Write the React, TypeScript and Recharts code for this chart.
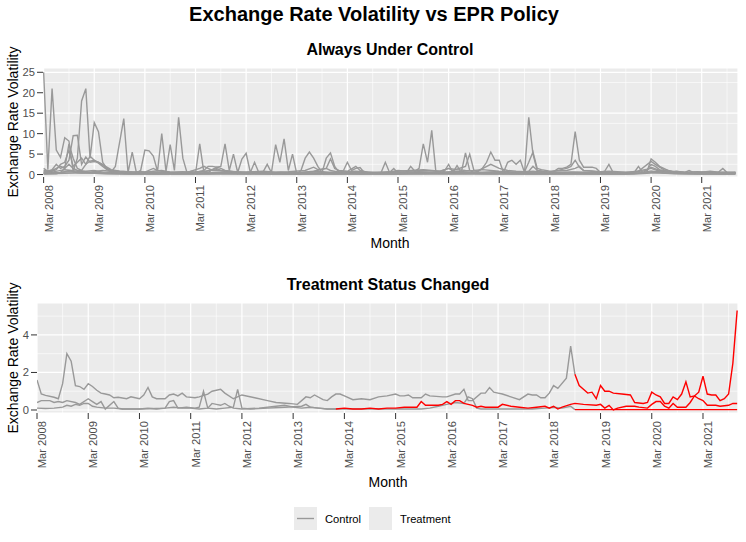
import React from "react";
import { CartesianGrid, Line, LineChart, XAxis, YAxis } from "recharts";

type Pt = [number, number];

// month index 0 = Mar 2008, 164 = Nov 2021
const MONTH_TICKS = [0, 12, 24, 36, 48, 60, 72, 84, 96, 108, 120, 132, 144, 156];
const MONTH_LABELS = [
  "Mar 2008", "Mar 2009", "Mar 2010", "Mar 2011", "Mar 2012", "Mar 2013", "Mar 2014",
  "Mar 2015", "Mar 2016", "Mar 2017", "Mar 2018", "Mar 2019", "Mar 2020", "Mar 2021",
];
const MONTH_MINOR = [6, 18, 30, 42, 54, 66, 78, 90, 102, 114, 126, 138, 150, 162];

const TOP_TICKS = [0, 5, 10, 15, 20, 25];
const TOP_MINOR = [2.5, 7.5, 12.5, 17.5, 22.5];
const BOTTOM_TICKS = [0, 2, 4];
const BOTTOM_MINOR = [1, 3, 5];

// "Always Under Control" countries
const TOP_A: Pt[] = [
  [0, 25], [1, 1.2], [2, 21], [3, 6], [4, 4.2], [5, 9], [6, 8.2], [7, 0.8], [8, 4], [9, 18], [10, 21],
  [11, 4], [12, 12.7], [13, 10.5], [14, 3], [15, 1.5], [16, 0.6], [17, 2], [19, 13.7], [20, 0.5],
  [21, 5.5], [22, 0.4], [23, 1], [24, 6], [25, 5.8], [26, 4.5], [27, 0.8], [28, 10], [29, 0.8],
  [30, 7.3], [31, 1], [32, 14], [33, 4], [34, 0.4], [35, 0.8], [36, 0.3], [37, 7.5], [38, 0.4],
  [39, 0.5], [40, 1.2], [41, 1.8], [42, 2], [43, 7.5], [44, 1], [45, 5], [46, 0.5], [47, 3.8],
  [48, 5.2], [49, 0.5], [50, 3], [51, 0.5], [52, 0.6], [53, 2.5], [54, 0.5], [55, 7.3], [56, 3],
  [57, 8.7], [58, 1], [59, 5], [60, 0.2], [61, 1], [62, 4], [63, 5.5], [64, 4], [65, 2], [66, 0.5],
  [67, 4], [68, 5.3], [69, 2], [70, 0.5], [71, 0.8], [72, 3], [73, 1], [74, 1.5], [75, 1.7], [76, 0.5],
  [78, 0.4], [80, 0.5], [81, 3], [82, 0.5], [83, 1.5], [84, 0.3], [85, 0.5], [86, 0.4], [87, 2],
  [88, 0.8], [89, 1.5], [90, 7.5], [91, 3], [92, 10.8], [93, 0.5], [94, 0.4], [95, 0.8], [96, 2.5],
  [97, 0.5], [98, 2.2], [99, 0.5], [100, 5.3], [101, 1], [102, 0.5], [103, 0.8], [104, 1.5], [105, 3],
  [106, 5.5], [107, 3.5], [108, 3.5], [109, 0.5], [110, 3], [111, 3.5], [112, 2.5], [113, 3.5],
  [114, 0.5], [115, 14], [116, 5], [117, 1], [118, 0.8], [119, 0.5], [120, 0.5], [121, 0.8],
  [122, 1.5], [123, 1.5], [124, 1.8], [125, 2.5], [126, 10.5], [127, 3.5], [128, 1.8], [129, 1.8],
  [130, 1.8], [131, 1.5], [132, 0.5], [133, 0.8], [134, 2.5], [135, 0.5], [136, 0.4], [138, 0.3],
  [140, 0.5], [141, 2], [142, 0.5], [143, 0.6], [144, 3.8], [145, 3], [146, 2], [147, 1.5], [148, 1],
  [149, 0.6], [150, 0.8], [152, 0.5], [153, 1], [154, 0.5], [156, 0.6], [158, 0.8], [160, 0.6],
  [161, 1.5], [162, 0.5], [163, 0.4], [164, 0.5],
];
const TOP_B: Pt[] = [
  [0, 1.5], [1, 0.8], [2, 1.2], [3, 2.5], [4, 1.5], [5, 2], [6, 3.5], [7, 9.5], [8, 9.6], [9, 2.5],
  [10, 4.3], [11, 3], [12, 3.2], [13, 3], [14, 2.3], [15, 1.8], [16, 1.2], [17, 1], [18, 0.8], [20, 0.7],
  [22, 0.5], [24, 0.6], [26, 1.5], [27, 1], [28, 0.8], [30, 0.6], [33, 0.7], [36, 0.5], [38, 1],
  [39, 2], [40, 2], [41, 1.8], [42, 1.5], [43, 1], [45, 0.7], [48, 0.6], [52, 0.8], [55, 0.6], [58, 0.7],
  [62, 1], [64, 1.8], [65, 1.2], [67, 1.5], [68, 3.8], [69, 1.5], [70, 1], [72, 0.8], [74, 2], [75, 1],
  [77, 0.5], [80, 0.6], [84, 0.8], [87, 1], [90, 1.2], [92, 1], [94, 0.8], [96, 1.5], [98, 1.2],
  [100, 1], [103, 0.9], [106, 2.5], [108, 1.5], [110, 1], [112, 0.8], [114, 0.7], [115, 3], [116, 5.5],
  [117, 1.5], [118, 1.2], [120, 0.8], [124, 1], [126, 1.5], [127, 2], [128, 1], [130, 0.9], [132, 0.7],
  [134, 0.8], [138, 0.6], [141, 0.8], [144, 3.2], [145, 2.5], [146, 1.8], [147, 1.2], [149, 0.8],
  [152, 0.6], [155, 0.7], [158, 0.5], [161, 0.6], [164, 0.5],
];
const TOP_C: Pt[] = [
  [0, 0.8], [2, 1], [3, 1.5], [4, 2], [5, 1.5], [6, 7.5], [7, 4], [8, 1.5], [9, 1], [10, 2.5], [11, 4.5],
  [12, 3.5], [13, 2.8], [14, 2], [15, 1.2], [16, 0.8], [18, 0.6], [20, 0.5], [24, 0.5], [26, 0.8],
  [28, 1], [30, 0.6], [34, 0.5], [37, 1.5], [38, 2], [39, 1.5], [40, 1], [44, 0.8], [48, 0.5], [52, 0.6],
  [56, 0.5], [60, 0.4], [64, 0.8], [67, 1.5], [68, 1], [70, 0.6], [74, 0.8], [78, 0.5], [82, 0.6],
  [84, 1], [86, 0.8], [90, 1], [94, 0.8], [96, 1.5], [97, 1], [100, 2], [101, 5], [102, 1], [104, 1.2],
  [108, 0.8], [112, 0.6], [115, 0.8], [116, 2], [117, 1], [120, 0.6], [124, 1.5], [125, 2], [126, 3.5],
  [127, 1.8], [128, 1], [132, 0.6], [136, 0.5], [140, 0.6], [143, 1], [144, 2.5], [145, 2], [146, 1.2],
  [148, 0.8], [152, 0.5], [156, 0.6], [160, 0.5], [164, 0.6],
];
const TOP_D: Pt[] = [
  [0, 0.3], [4, 0.5], [6, 2.5], [7, 1.5], [8, 1], [10, 0.8], [12, 1], [14, 0.6], [18, 0.4], [24, 0.3],
  [30, 0.4], [36, 0.3], [42, 0.5], [48, 0.4], [54, 0.3], [60, 0.2], [66, 0.4], [72, 0.3], [78, 0.4],
  [84, 0.5], [90, 0.6], [96, 0.5], [102, 0.4], [108, 0.6], [114, 0.4], [120, 0.3], [126, 0.5],
  [132, 0.4], [138, 0.3], [144, 1.5], [146, 0.8], [150, 0.5], [156, 0.3], [164, 0.4],
];
const TOP_E: Pt[] = [
  [0, 0.1], [3, 0.2], [6, 1], [8, 0.5], [12, 0.3], [18, 0.2], [24, 0.1], [30, 0.2], [36, 0.15],
  [42, 0.3], [48, 0.2], [54, 0.1], [60, 0.15], [66, 0.2], [72, 0.1], [78, 0.2], [84, 0.15], [90, 0.3],
  [96, 0.2], [102, 0.25], [108, 0.2], [114, 0.15], [120, 0.1], [126, 0.2], [132, 0.15], [138, 0.1],
  [144, 0.6], [148, 0.3], [154, 0.2], [160, 0.1], [164, 0.15],
];
const TOP_F: Pt[] = [
  [0, 1], [2, 0.6], [5, 1.2], [8, 0.8], [11, 0.6], [14, 1], [17, 0.7], [20, 0.5], [23, 0.7], [26, 0.5],
  [29, 0.6], [32, 0.4], [35, 0.6], [38, 0.8], [41, 1.2], [44, 0.6], [47, 0.5], [50, 0.7], [53, 0.4],
  [56, 0.5], [59, 0.3], [62, 0.6], [65, 0.8], [68, 0.5], [71, 0.6], [74, 0.4], [77, 0.5], [80, 0.4],
  [83, 0.6], [86, 0.5], [89, 0.7], [92, 0.5], [95, 0.6], [98, 0.8], [101, 0.6], [104, 0.5], [107, 0.7],
  [110, 0.5], [113, 0.6], [116, 0.8], [119, 0.5], [122, 0.4], [125, 0.6], [128, 0.5], [131, 0.4],
  [134, 0.6], [137, 0.4], [140, 0.3], [143, 0.5], [146, 0.8], [149, 0.5], [152, 0.4], [155, 0.5],
  [158, 0.3], [161, 0.4], [164, 0.3],
];
const TOP_G: Pt[] = [
  [0, 0.5], [3, 0.4], [6, 0.7], [9, 0.4], [12, 0.6], [15, 0.3], [18, 0.3], [21, 0.2], [24, 0.3],
  [27, 0.2], [30, 0.3], [33, 0.25], [36, 0.3], [39, 0.2], [42, 0.35], [45, 0.25], [48, 0.2], [51, 0.3],
  [54, 0.2], [57, 0.25], [60, 0.15], [63, 0.3], [66, 0.25], [69, 0.2], [72, 0.35], [75, 0.2],
  [78, 0.25], [81, 0.3], [84, 0.2], [87, 0.3], [90, 0.25], [93, 0.35], [96, 0.3], [99, 0.4], [102, 0.3],
  [105, 0.25], [108, 0.3], [111, 0.2], [114, 0.3], [117, 0.25], [120, 0.2], [123, 0.3], [126, 0.35],
  [129, 0.25], [132, 0.2], [135, 0.25], [138, 0.2], [141, 0.3], [144, 0.9], [147, 0.4], [150, 0.3],
  [153, 0.25], [156, 0.2], [159, 0.25], [162, 0.2], [164, 0.25],
];
const TOP_H: Pt[] = [
  [0, 0.2], [5, 0.3], [10, 0.4], [15, 0.2], [20, 0.15], [25, 0.2], [30, 0.1], [35, 0.15], [40, 0.2],
  [45, 0.1], [50, 0.15], [55, 0.1], [60, 0.1], [65, 0.15], [70, 0.1], [75, 0.15], [80, 0.1], [85, 0.2],
  [90, 0.15], [95, 0.1], [100, 0.2], [105, 0.15], [110, 0.1], [115, 0.15], [120, 0.1], [125, 0.2],
  [130, 0.1], [135, 0.15], [140, 0.1], [145, 0.4], [150, 0.2], [155, 0.15], [160, 0.1], [164, 0.15],
];
const TOP_I: Pt[] = [
  [0, 0.5], [2, 0.8], [3, 1.2], [4, 2.5], [5, 3], [6, 6], [7, 2], [8, 3], [9, 4], [10, 2.5], [11, 3.3],
  [12, 3.5], [13, 3], [14, 2.5], [15, 1.5], [16, 1], [18, 0.8], [22, 0.5], [26, 0.6], [30, 0.4],
  [34, 0.5], [38, 0.6], [41, 1.5], [42, 1], [46, 0.5], [52, 0.4], [58, 0.5], [64, 0.4], [70, 0.6],
  [76, 0.4], [82, 0.5], [88, 0.4], [94, 0.5], [100, 0.6], [106, 0.5], [112, 0.4], [118, 0.5],
  [124, 0.6], [130, 0.5], [136, 0.3], [142, 0.4], [144, 1.8], [146, 1], [150, 0.4], [156, 0.3],
  [162, 0.4], [164, 0.3],
];

// "Treatment Status Changed" countries: control part, then treatment part
const CTRL_1: Pt[] = [
  [0, 1.6], [1, 0.85], [2, 0.78], [4, 0.68], [5, 0.6], [6, 1.4], [7, 3.0], [8, 2.6], [9, 1.3],
  [10, 1.25], [11, 1.1], [12, 1.4], [13, 1.25], [14, 1.05], [15, 0.9], [16, 0.85], [17, 0.8],
  [18, 0.65], [19, 0.68], [21, 0.6], [22, 0.7], [23, 0.65], [24, 0.6], [25, 0.8], [26, 1.2], [27, 0.7],
  [28, 0.6], [30, 0.6], [31, 0.8], [32, 0.85], [33, 0.75], [34, 0.9], [35, 0.7], [37, 0.65], [38, 0.7],
  [40, 0.85], [41, 1.0], [43, 1.1], [44, 0.9], [46, 0.6], [48, 0.8], [51, 0.65], [54, 0.5], [56, 0.4],
  [59, 0.35], [61, 0.3], [63, 0.7], [64, 0.65], [65, 0.8], [67, 0.55], [68, 0.5], [69, 0.7], [70, 0.85],
  [71, 0.85], [72, 0.75], [74, 0.55], [76, 0.6], [78, 0.55], [80, 0.7], [82, 0.75], [84, 0.85],
  [85, 0.75], [86, 0.75], [87, 0.8], [88, 0.65], [90, 0.65], [91, 0.85], [92, 0.75], [95, 0.7],
  [96, 0.7], [98, 0.85], [99, 0.85], [100, 1.1], [101, 0.5], [102, 0.5], [104, 0.9], [105, 0.9],
  [106, 1.2], [107, 0.95], [108, 0.9], [109, 0.85], [111, 0.7], [113, 0.55], [115, 0.85], [116, 0.8],
  [117, 0.8], [118, 0.65], [119, 0.65], [120, 0.9], [121, 1.3], [122, 1.15], [124, 1.7], [125, 3.4],
  [126, 1.9],
];
const TREAT_1: Pt[] = [
  [126, 1.9], [127, 1.3], [128, 1.1], [129, 0.9], [130, 0.95], [131, 0.6], [132, 1.3], [133, 1.0],
  [134, 1.0], [135, 0.9], [137, 0.85], [139, 0.8], [140, 0.4], [142, 0.35], [143, 0.4], [144, 0.95],
  [145, 0.8], [146, 0.7], [147, 0.35], [148, 0.35], [149, 0.7], [150, 0.55], [151, 0.85], [152, 1.5],
  [153, 0.7], [154, 0.75], [155, 0.95], [156, 1.8], [157, 0.85], [158, 0.8], [159, 0.8], [160, 0.5],
  [161, 0.6], [162, 0.85], [163, 2.5], [164, 5.3],
];
const CTRL_2: Pt[] = [
  [0, 0.4], [1, 0.5], [3, 0.5], [4, 0.4], [5, 0.45], [6, 0.4], [7, 0.5], [9, 0.4], [10, 0.3], [12, 0.6],
  [13, 0.45], [14, 0.3], [15, 0.45], [16, 0.05], [18, 0.45], [19, 0.1], [20, 0.05], [22, 0.05],
  [24, 0.05], [26, 0.1], [28, 0.05], [30, 0.1], [31, 0.45], [32, 0.5], [33, 0.1], [35, 0.15], [37, 0.1],
  [38, 0.15], [39, 1.0], [40, 0.1], [42, 0.05], [44, 0.1], [46, 0.15], [47, 1.1], [48, 0.1], [50, 0.05],
  [54, 0.1], [58, 0.15], [62, 0.2], [63, 0.3], [64, 0.15], [66, 0.1], [68, 0.05], [70, 0.05],
];
const TREAT_2: Pt[] = [
  [70, 0.05], [72, 0.1], [74, 0.05], [76, 0.05], [78, 0.1], [80, 0.05], [82, 0.1], [84, 0.1],
  [86, 0.15], [88, 0.15], [89, 0.15], [90, 0.45], [91, 0.25], [94, 0.25], [95, 0.3], [96, 0.45],
  [97, 0.3], [98, 0.5], [99, 0.5], [100, 0.35], [102, 0.25], [103, 0.15], [104, 0.2], [105, 0.15],
  [108, 0.15], [109, 0.3], [111, 0.2], [113, 0.15], [115, 0.1], [117, 0.15], [119, 0.2], [120, 0.1],
  [121, 0.2], [122, 0.05], [123, 0.15], [125, 0.3], [126, 0.35], [128, 0.3], [131, 0.25], [132, 0.3],
  [133, 0.1], [134, 0.25], [135, 0.0], [136, 0.1], [138, 0.2], [140, 0.2], [141, 0.15], [143, 0.1],
  [144, 0.3], [145, 0.45], [146, 0.45], [147, 0.2], [148, 0.1], [149, 0.35], [150, 0.15], [152, 0.15],
  [153, 0.4], [154, 0.75], [155, 0.6], [156, 0.5], [157, 0.25], [159, 0.25], [160, 0.2], [162, 0.25],
  [163, 0.35], [164, 0.35],
];
const CTRL_3: Pt[] = [
  [0, 0.1], [2, 0.08], [4, 0.1], [6, 0.15], [7, 0.25], [8, 0.2], [9, 0.3], [10, 0.25], [11, 0.35],
  [12, 0.35], [13, 0.2], [14, 0.15], [16, 0.1], [18, 0.1], [20, 0.05], [24, 0.05], [28, 0.08], [30, 0.1],
  [32, 0.15], [34, 0.1], [36, 0.1], [38, 0.05], [40, 0.1], [41, 0.35], [42, 0.3], [43, 0.25], [44, 0.35],
  [45, 0.2], [46, 0.1], [48, 0.05], [52, 0.1], [56, 0.2], [58, 0.25], [60, 0.15], [62, 0.1], [64, 0.15],
  [66, 0.1], [68, 0.05], [72, 0.05], [76, 0.05], [80, 0.05], [84, 0.05], [88, 0.05], [90, 0.05],
  [92, 0.1], [94, 0.2], [96, 0.3], [98, 0.4], [100, 0.35], [101, 0.7], [102, 0.6], [103, 0.1],
  [104, 0.05], [108, 0.05], [112, 0.05], [116, 0.05], [119, 0.1], [121, 0.15], [123, 0.1], [125, 0.2],
  [126, 0.02],
];
const TREAT_3: Pt[] = [[126, 0.02], [164, 0.02]];

const TOP_SERIES = [TOP_H, TOP_G, TOP_F, TOP_E, TOP_D, TOP_I, TOP_C, TOP_B, TOP_A];
const CONTROL_SERIES = [CTRL_1, CTRL_2, CTRL_3];
const TREATMENT_SERIES = [TREAT_1, TREAT_2, TREAT_3];

const FONT = '"Liberation Sans", Arial, sans-serif';
const GREY = "#999999";
const RED = "#FF0000";
const PANEL = "#EBEBEB";

const toRows = (pts: Pt[]) => pts.map(([m, v]) => ({ m, v }));

function MonthTick(props: any) {
  const { x, y, payload } = props;
  const label = MONTH_LABELS[MONTH_TICKS.indexOf(payload.value)] ?? "";
  return (
    <text
      x={x}
      y={y}
      dy={9}
      transform={`rotate(-90 ${x} ${y})`}
      textAnchor="end"
      fontSize={11.2}
      fill="#4D4D4D"
      fontFamily={FONT}
    >
      {label}
    </text>
  );
}

type PanelProps = {
  top: number;
  marginTop: number;
  axisHeight: number;
  yWidth: number;
  xDomain: [number, number];
  yDomain: [number, number];
  yTicks: number[];
  yMinor: number[];
  grey: Pt[][];
  red: Pt[][];
};

function Panel({ top, marginTop, axisHeight, yWidth, xDomain, yDomain, yTicks, yMinor, grey, red }: PanelProps) {
  return (
    <div style={{ position: "absolute", left: 0, top }}>
      <LineChart width={746} height={250} margin={{ top: marginTop, right: 8, bottom: 0, left: 0 }}>
        <CartesianGrid
          fill={PANEL}
          fillOpacity={1}
          stroke="#FFFFFF"
          strokeWidth={0.6}
          horizontalValues={yMinor}
          verticalValues={MONTH_MINOR}
        />
        <CartesianGrid stroke="#FFFFFF" strokeWidth={1.2} />
        <XAxis
          dataKey="m"
          type="number"
          domain={xDomain}
          ticks={MONTH_TICKS}
          interval={0}
          allowDataOverflow
          axisLine={false}
          tickLine={{ stroke: "#333333" }}
          tick={<MonthTick />}
          height={axisHeight}
        />
        <YAxis
          type="number"
          domain={yDomain}
          ticks={yTicks}
          allowDataOverflow
          width={yWidth}
          axisLine={false}
          tickLine={{ stroke: "#333333" }}
          tick={{ fontSize: 11.2, fill: "#4D4D4D", fontFamily: FONT }}
        />
        {grey.map((s, i) => (
          <Line
            key={`g${i}`}
            data={toRows(s)}
            dataKey="v"
            type="linear"
            stroke={GREY}
            strokeWidth={1.4}
            dot={false}
            activeDot={false}
            isAnimationActive={false}
          />
        ))}
        {red.map((s, i) => (
          <Line
            key={`r${i}`}
            data={toRows(s)}
            dataKey="v"
            type="linear"
            stroke={RED}
            strokeWidth={1.4}
            dot={false}
            activeDot={false}
            isAnimationActive={false}
          />
        ))}
      </LineChart>
    </div>
  );
}

export default function App() {
  return (
    <div style={{ position: "absolute", left: 0, top: 0, width: 746, height: 542, background: "#FFFFFF", fontFamily: FONT }}>
      <Panel
        top={0}
        marginTop={68}
        axisHeight={73}
        yWidth={43}
        xDomain={[-0.15, 164.6]}
        yDomain={[-0.6, 26.05]}
        yTicks={TOP_TICKS}
        yMinor={TOP_MINOR}
        grey={TOP_SERIES}
        red={[]}
      />
      <Panel
        top={250}
        marginTop={53}
        axisHeight={87}
        yWidth={37}
        xDomain={[0, 164.2]}
        yDomain={[-0.16, 5.7]}
        yTicks={BOTTOM_TICKS}
        yMinor={BOTTOM_MINOR}
        grey={CONTROL_SERIES}
        red={TREATMENT_SERIES}
      />
      <svg width={746} height={542} style={{ position: "absolute", left: 0, top: 0, pointerEvents: "none" }}>
        <g fontFamily={FONT}>
          <text x={374} y={21} textAnchor="middle" fontSize={20} fontWeight="bold" fill="#000">
            Exchange Rate Volatility vs EPR Policy
          </text>
          <text x={390} y={55} textAnchor="middle" fontSize={16} fontWeight="bold" fill="#000">
            Always Under Control
          </text>
          <text x={388} y={290} textAnchor="middle" fontSize={16} fontWeight="bold" fill="#000">
            Treatment Status Changed
          </text>
          <text x={390} y={248} textAnchor="middle" fontSize={14} fill="#000">Month</text>
          <text x={388} y={487} textAnchor="middle" fontSize={14} fill="#000">Month</text>
          <text x={18} y={122} transform="rotate(-90 18 122)" textAnchor="middle" fontSize={14} fill="#000">
            Exchange Rate Volatility
          </text>
          <text x={18} y={358} transform="rotate(-90 18 358)" textAnchor="middle" fontSize={14} fill="#000">
            Exchange Rate Volatility
          </text>
          <rect x={294} y={507} width={23} height={23} fill={PANEL} />
          <line x1={297} y1={518.5} x2={314} y2={518.5} stroke={GREY} strokeWidth={1.4} />
          <text x={325} y={522.5} fontSize={11.2} fill="#000">Control</text>
          <rect x={369} y={507} width={23} height={23} fill={PANEL} />
          <text x={400} y={522.5} fontSize={11.2} fill="#000">Treatment</text>
        </g>
      </svg>
    </div>
  );
}
